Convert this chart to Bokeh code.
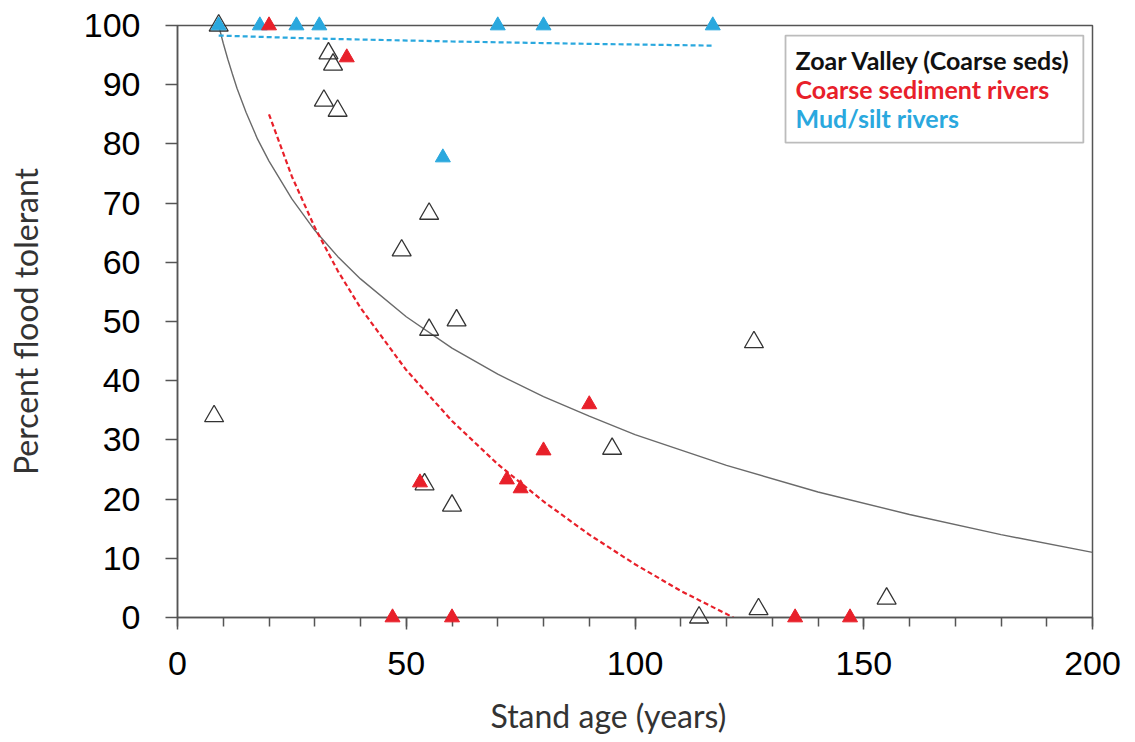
from bokeh.plotting import figure
from bokeh.models import Range1d, SingleIntervalTicker, Label, BoxAnnotation, Title
from bokeh.embed import file_html
from bokeh.resources import INLINE

# ---- data ----
zoar_age = [8, 9, 32, 33, 34, 35, 49, 55, 55, 61, 54, 60, 95, 126, 114, 127, 155]
zoar_pct = [34, 100, 87.3, 95.3, 93.4, 85.6, 62, 68.2, 48.6, 50.2, 22.5, 18.9, 28.5, 46.5, 0, 1.4, 3.2]

coarse_age = [20, 37, 53, 72, 75, 80, 90, 47, 60, 135, 147]
coarse_pct = [100, 94.6, 22.8, 23.3, 21.8, 28.2, 36, 0, 0, 0, 0]

mud_age = [9, 18, 26, 31, 70, 80, 117, 58]
mud_pct = [100, 100, 100, 100, 100, 100, 100, 77.7]

# trend lines
zoar_fit_x = [9, 10, 11, 12, 13, 15, 17.5, 20, 25, 30, 35, 40, 50, 60, 70, 80, 90, 100, 120, 140, 160, 180, 200]
zoar_fit_y = [100, 97.0, 94.3, 91.8, 89.4, 85.3, 80.8, 77.1, 70.7, 65.4, 61.0, 57.2, 50.8, 45.5, 41.1, 37.3, 34.0, 30.9, 25.7, 21.2, 17.4, 14.0, 11.0]

coarse_fit_x = [20, 25, 30, 35, 40, 50, 60, 70, 80, 90, 100, 110, 121.5]
coarse_fit_y = [85.0, 74.5, 65.9, 58.6, 52.3, 41.8, 33.2, 25.9, 19.6, 14.0, 9.0, 4.5, 0]

mud_fit_x = [9, 30, 60, 90, 117]
mud_fit_y = [98.3, 97.8, 97.3, 96.9, 96.6]

x_label = "Stand age (years)"
y_label = "Percent flood tolerant"
legend_texts = ["Zoar Valley (Coarse seds)", "Coarse sediment rivers", "Mud/silt rivers"]

RED = "#E8202A"
BLUE = "#2AA8DE"
AXIS = "#555555"

p = figure(frame_width=915, frame_height=592,
           x_range=Range1d(0, 200), y_range=Range1d(0, 100),
           output_backend="svg", toolbar_location=None,
           min_border_left=177, min_border_right=40,
           min_border_top=25, min_border_bottom=118)
p.background_fill_color = "white"
p.border_fill_color = "white"
p.outline_line_color = AXIS
p.outline_line_width = 1.5
p.xgrid.visible = False
p.ygrid.visible = False

p.xaxis.ticker = SingleIntervalTicker(interval=50, num_minor_ticks=5)
p.yaxis.ticker = SingleIntervalTicker(interval=10, num_minor_ticks=0)
for ax in (p.xaxis[0], p.yaxis[0]):
    ax.axis_line_color = AXIS
    ax.axis_line_width = 1.5
    ax.major_tick_line_color = AXIS
    ax.major_tick_line_width = 1.5
    ax.minor_tick_line_color = AXIS
    ax.minor_tick_line_width = 1.5
    ax.major_tick_out = 12
    ax.major_tick_in = 0
    ax.minor_tick_out = 9
    ax.minor_tick_in = 0
    ax.major_label_text_font = "Liberation Sans"
    ax.major_label_text_font_size = "34px"
    ax.major_label_text_color = "black"
p.yaxis.major_label_standoff = 25
p.xaxis.major_label_standoff = 22

# y axis title
p.yaxis.axis_label = y_label
p.yaxis.axis_label_text_font = "Lato"
p.yaxis.axis_label_text_font_size = "32px"
p.yaxis.axis_label_text_font_style = "normal"
p.yaxis.axis_label_text_color = "#333333"
p.yaxis.axis_label_standoff = 36

# x axis title as a panel title (offset from the frame's left edge)
p.add_layout(Title(text=x_label, text_font="Lato", text_font_size="32px",
                   text_font_style="normal", text_color="#333333",
                   align="left", offset=313, standoff=32), "below")

# trend lines
p.line(zoar_fit_x, zoar_fit_y, line_color="#6a6a6a", line_width=1.4)
p.line(coarse_fit_x, coarse_fit_y, line_color=RED, line_width=2.2, line_dash="5 3")
p.line(mud_fit_x, mud_fit_y, line_color=BLUE, line_width=2.2, line_dash="5 3")

# points
p.scatter(zoar_age, zoar_pct, marker="triangle", size=19, fill_color=None,
          line_color="#333333", line_width=1.3, level="overlay")
p.scatter(mud_age, mud_pct, marker="triangle", size=15, fill_color=BLUE,
          line_color=BLUE, line_width=1, level="overlay")
p.scatter(coarse_age, coarse_pct, marker="triangle", size=15, fill_color=RED,
          line_color=RED, line_width=1, level="overlay")

# legend box
box = BoxAnnotation(left=132.9, right=198.0, top=98.3, bottom=80.2,
                    fill_color="white", fill_alpha=1.0,
                    line_color="#222222", line_width=1.8, level="annotation")
p.add_layout(box)
legend_colors = ["#111111", RED, BLUE]
legend_y = [94.1, 89.3, 84.3]
for t, c, yy in zip(legend_texts, legend_colors, legend_y):
    p.add_layout(Label(x=135.1, y=yy, text=t, text_color=c,
                       text_font="Lato", text_font_style="bold",
                       text_font_size="25px", text_baseline="alphabetic",
                       text_align="left"))

open("out.html", "w").write(file_html(p, INLINE))
